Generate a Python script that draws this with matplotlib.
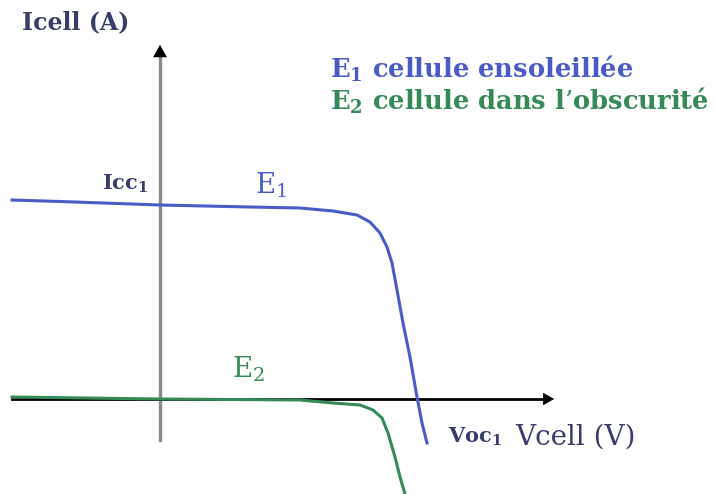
import matplotlib
matplotlib.use("Agg")
import matplotlib.pyplot as plt

plt.rcParams["mathtext.fontset"] = "dejavuserif"
plt.rcParams["mathtext.default"] = "regular"

# ── Data (V in arbitrary volts, I in arbitrary amps; origin at the axes cross) ──
v_e1 = [-1.48, -1.00, 0.00, 0.90, 1.40, 1.73, 1.97, 2.10, 2.20, 2.27, 2.32, 2.37, 2.43, 2.50, 2.57, 2.62, 2.67]
i_e1 = [1.99, 1.975, 1.94, 1.92, 1.91, 1.88, 1.84, 1.77, 1.66, 1.52, 1.36, 1.09, 0.76, 0.42, 0.02, -0.24, -0.44]

v_e2 = [-1.48, 0.00, 1.40, 1.73, 2.00, 2.13, 2.22, 2.28, 2.35, 2.40, 2.45]
i_e2 = [0.02, 0.00, -0.01, -0.04, -0.06, -0.11, -0.19, -0.34, -0.58, -0.78, -0.95]

BLUE = "#4a5bc6"
GREEN = "#358a58"
DARK = "#3a3d6a"
SERIF = "DejaVu Serif"

fig = plt.figure(figsize=(7.15, 4.94), dpi=100)
ax = fig.add_axes([0, 0, 1, 1])
ax.set_xlim(-1.60, 5.55)
ax.set_ylim(-0.95, 3.99)
ax.axis("off")

# axes with arrows
ax.plot([0, 0], [-0.41, 3.46], color="#8a8a8a", lw=2.4, zorder=1)
ax.annotate("", xy=(0, 3.57), xytext=(0, 3.40),
            arrowprops=dict(arrowstyle="-|>,head_width=0.5,head_length=0.9",
                            color="black", lw=0))
ax.plot([-1.48, 3.85], [0, 0], color="black", lw=2.0, zorder=1)
ax.annotate("", xy=(3.97, 0), xytext=(3.80, 0),
            arrowprops=dict(arrowstyle="-|>,head_width=0.45,head_length=0.8",
                            color="black", lw=0))

# curves
ax.plot(v_e1, i_e1, color=BLUE, lw=2.2, zorder=3, solid_joinstyle="round")
ax.plot(v_e2, i_e2, color=GREEN, lw=2.2, zorder=3, solid_joinstyle="round")

# texts
ax.text(-1.38, 3.77, "Icell (A)", family=SERIF, fontsize=17, color=DARK,
        fontweight="bold", ha="left", va="center")
ax.text(1.70, 3.30, "E$_1$ cellule ensoleillée", family=SERIF, fontsize=18.5,
        color=BLUE, fontweight="bold", ha="left", va="center")
ax.text(1.70, 2.98, "E$_2$ cellule dans l’obscurité", family=SERIF, fontsize=18.5,
        color=GREEN, fontweight="bold", ha="left", va="center")
ax.text(-0.12, 2.15, "Icc$_1$", family=SERIF, fontsize=15, color=DARK,
        fontweight="bold", ha="right", va="center")
ax.text(0.95, 2.14, "E$_1$", family=SERIF, fontsize=20, color=BLUE,
        ha="left", va="center")
ax.text(0.72, 0.30, "E$_2$", family=SERIF, fontsize=20, color=GREEN,
        ha="left", va="center")
ax.text(2.88, -0.38, "Voc$_1$", family=SERIF, fontsize=15, color=DARK,
        fontweight="bold", ha="left", va="center")
ax.text(3.55, -0.38, "Vcell (V)", family=SERIF, fontsize=20, color=DARK,
        ha="left", va="center")

fig.savefig("out.png", dpi=100)
